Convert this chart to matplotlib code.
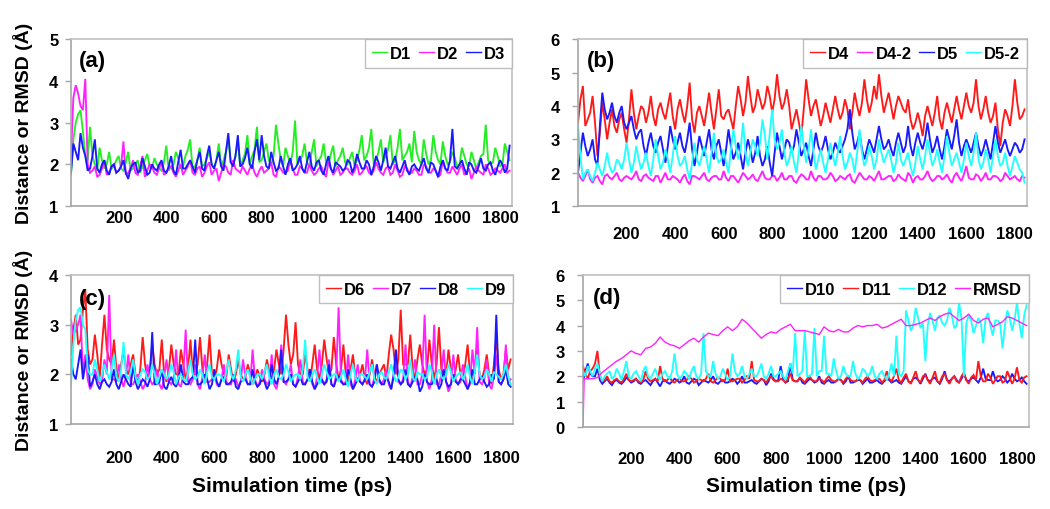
import numpy as np
import matplotlib
matplotlib.use("Agg")
import matplotlib.pyplot as plt

plt.rcParams['font.family'] = ['Liberation Sans', 'DejaVu Sans']
plt.rcParams['font.weight'] = 'bold'

STEP = 20  # ps between the main read-off samples; *_mid lists sit half a step later

# ---- panel (a) ----
d1 = [1.75, 3.0, 3.3, 2.2, 2.9, 2.0, 2.4, 1.9, 2.3, 1.95, 2.2, 1.85, 2.3, 1.9, 2.1, 1.95, 2.25, 1.9, 2.0, 1.85,
      2.45, 1.95, 2.3, 1.9, 2.2, 2.6, 1.95, 2.4, 2.0, 2.3, 1.9, 2.5, 2.1, 2.6, 2.0, 2.55, 2.1, 2.7, 2.2, 2.9,
      2.1, 2.5, 2.0, 2.95, 2.1, 2.4, 2.0, 3.05, 2.1, 2.5, 1.95, 2.6, 2.1, 2.5, 2.0, 2.45, 2.1, 2.4, 2.0, 2.3,
      2.1, 2.7, 2.2, 2.85, 2.1, 2.6, 2.2, 2.7, 2.1, 2.85, 2.2, 2.5, 2.8, 2.1, 2.6, 2.0, 2.7, 2.1, 2.55, 2.0,
      2.3, 1.95, 2.4, 2.0, 2.3, 1.9, 2.2, 2.95, 2.0, 2.4, 1.95, 2.5, 2.1]
d1_mid = [2.6, 3.2, 2.8, 2.1, 2.2, 1.85, 2.1, 2.0, 1.9, 2.1,
          1.9, 2.05, 1.85, 2.0, 1.8, 2.1, 1.95, 2.15, 1.9, 2.05,
          1.85, 2.0, 2.15, 1.95, 2.35, 1.9, 2.1, 1.95, 2.15, 2.0,
          2.1, 1.95, 2.3, 2.05, 2.2, 1.95, 2.25, 2.0, 2.35, 2.05,
          2.3, 2.1, 2.2, 2.5, 1.95, 2.2, 2.3, 2.0, 2.2, 2.05,
          2.3, 1.95, 2.2, 2.05, 2.25, 1.95, 2.2, 2.05, 2.15, 1.95,
          2.35, 2.1, 2.4, 2.0, 2.3, 2.05, 2.35, 2.0, 2.4, 2.1,
          2.3, 2.05, 2.3, 2.0, 2.25, 2.1, 2.3, 2.0, 2.2, 2.05,
          2.15, 2.0, 2.2, 1.95, 2.1, 2.05, 2.25, 2.1, 2.05, 2.2,
          2.0, 2.3]
d2 = [2.2, 3.9, 3.4, 4.05, 1.8, 1.95, 1.75, 2.1, 1.8, 2.0, 1.85, 2.55, 1.8, 2.1, 1.75, 2.2, 1.85, 1.95, 1.75, 2.05,
      1.8, 1.95, 1.7, 2.0, 1.85, 2.1, 1.75, 1.95, 1.8, 2.05, 1.85, 1.6, 2.0, 1.8, 2.1, 1.85, 1.95, 1.75, 2.0, 1.7,
      1.95, 1.85, 2.05, 1.7, 1.9, 1.8, 2.1, 1.75, 1.95, 1.8, 2.0, 1.75, 1.9, 1.8, 2.05, 1.75, 1.95, 1.8, 1.9, 1.75,
      2.0, 1.8, 1.95, 1.75, 2.05, 1.8, 1.9, 1.75, 2.0, 1.7, 1.95, 1.8, 1.9, 1.75, 2.0, 1.8, 1.9, 1.7, 2.1, 1.8,
      1.95, 1.75, 2.0, 1.8, 1.65, 1.95, 1.8, 2.0, 1.75, 1.9, 1.8, 2.0, 1.85]
d2_mid = [3.6, 3.7, 3.3, 2.0, 1.85, 1.7, 1.9, 1.75, 1.95, 1.8,
          1.95, 1.75, 1.9, 1.8, 1.95, 1.7, 2.0, 1.8, 1.9, 1.75,
          1.9, 1.8, 1.85, 1.75, 1.95, 1.8, 1.9, 1.7, 1.95, 1.75,
          1.9, 1.8, 1.95, 1.75, 1.9, 1.8, 1.85, 1.9, 1.8, 1.85,
          1.8, 1.9, 1.75, 1.95, 1.8, 1.85, 1.9, 1.75, 1.9, 1.8,
          1.85, 1.8, 1.95, 1.7, 1.9, 1.85, 1.75, 1.9, 1.8, 1.85,
          1.75, 1.9, 1.8, 1.85, 1.9, 1.75, 1.95, 1.8, 1.85, 1.75,
          1.9, 1.8, 1.85, 1.75, 1.95, 1.8, 1.85, 1.75, 1.9, 1.8,
          1.85, 1.9, 1.75, 1.9, 1.8, 1.85, 1.75, 1.9, 1.8, 1.85,
          1.9, 1.8]
d3 = [1.8, 2.3, 2.75, 2.2, 1.9, 2.6, 1.8, 2.1, 1.75, 2.0, 1.85, 2.1, 1.65, 2.0, 1.8, 2.15, 1.75, 2.0, 1.85, 2.1,
      1.8, 2.2, 1.75, 2.35, 1.9, 2.1, 1.8, 2.3, 1.85, 2.45, 1.9, 2.3, 1.85, 2.75, 1.95, 2.7, 2.0, 2.4, 1.9, 2.6,
      2.7, 1.95, 2.3, 1.85, 2.2, 1.75, 2.15, 1.9, 2.2, 1.8, 2.3, 1.85, 2.1, 1.75, 2.2, 1.8, 2.0, 1.85, 2.1, 1.8,
      2.25, 1.9, 2.1, 1.75, 2.2, 1.85, 2.4, 1.9, 2.2, 1.8, 2.1, 1.75, 2.0, 1.85, 2.15, 1.8, 2.0, 1.7, 2.1, 1.85,
      2.85, 1.9, 2.1, 1.75, 2.0, 1.8, 2.15, 1.85, 2.05, 1.75, 2.1, 1.8, 2.45]
d3_mid = [2.5, 2.1, 2.4, 1.85, 2.2, 1.9, 2.0, 1.85, 1.95, 1.8,
          1.95, 1.8, 1.9, 2.05, 1.85, 1.95, 1.8, 1.9, 2.0, 1.85,
          1.95, 1.85, 2.05, 1.9, 2.0, 1.95, 2.1, 1.9, 2.2, 2.0,
          2.1, 1.95, 2.3, 2.05, 2.2, 1.95, 2.15, 2.0, 2.3, 2.1,
          2.2, 1.9, 2.05, 1.9, 1.95, 2.0, 1.85, 2.0, 1.9, 2.05,
          1.95, 2.05, 1.85, 2.0, 1.9, 2.05, 1.95, 1.9, 2.05, 1.95,
          2.05, 1.9, 2.0, 1.95, 2.05, 2.1, 1.95, 2.05, 1.9, 1.95,
          1.85, 1.95, 1.9, 2.0, 1.9, 2.05, 1.85, 1.95, 1.9, 2.1,
          1.95, 2.0, 1.9, 2.05, 1.85, 1.95, 1.9, 2.0, 1.85, 1.95,
          2.0, 1.9]

# ---- panel (b) ----
d4 = [3.5, 4.6, 3.6, 4.3, 2.5, 4.1, 3.0, 3.9, 3.2, 3.8, 2.9, 4.5, 3.3, 4.0, 3.5, 4.3, 3.4, 4.1, 3.6, 4.4,
      3.3, 4.2, 3.5, 4.7, 3.2, 4.0, 3.4, 4.4, 3.3, 4.5, 3.6, 3.9, 3.3, 4.6, 3.7, 4.9, 3.8, 4.5, 3.9, 4.6,
      3.8, 4.95, 3.9, 4.5, 3.3, 3.9, 3.1, 4.8, 3.7, 4.2, 3.4, 4.1, 3.5, 4.3, 3.6, 4.2, 3.3, 4.4, 3.7, 4.8,
      3.8, 4.6, 4.95, 3.8, 4.4, 3.6, 4.3, 3.9, 4.2, 3.3, 3.8, 3.1, 4.0, 3.4, 4.3, 3.3, 4.1, 3.5, 4.3, 3.6,
      4.4, 3.8, 4.8, 3.6, 4.3, 3.5, 4.1, 2.8, 3.9, 3.4, 4.8, 3.6, 3.9]
d4_mid = [4.2, 3.4, 3.8, 3.5, 3.2, 3.6, 3.5, 3.4, 3.6, 3.3,
          3.6, 3.8, 3.7, 3.9, 3.8, 3.7, 3.9, 3.8, 4.0, 3.7,
          3.9, 3.8, 4.0, 3.6, 3.8, 3.7, 3.9, 3.8, 3.9, 3.7,
          3.8, 3.6, 4.0, 4.2, 4.1, 4.3, 4.0, 4.2, 4.1, 4.3,
          4.2, 4.3, 4.1, 4.0, 3.6, 3.5, 3.9, 4.2, 4.0, 3.8,
          3.7, 3.8, 3.9, 3.9, 3.8, 3.9, 3.8, 4.0, 4.1, 4.2,
          4.1, 4.2, 4.3, 4.1, 4.0, 4.0, 4.1, 3.8, 3.6, 3.5,
          3.5, 3.7, 3.7, 3.8, 3.6, 3.8, 3.8, 3.9, 3.9, 4.0,
          4.0, 4.1, 4.0, 3.9, 3.8, 3.7, 3.3, 3.5, 3.7, 4.0,
          4.1, 3.7]
d4_2 = [2.0, 1.75, 2.1, 1.7, 1.9, 1.65, 1.95, 1.8, 2.0, 1.75, 1.9, 1.8, 2.05, 1.75, 1.95, 1.8, 1.9, 1.7, 2.0, 1.8,
        1.85, 1.7, 1.95, 1.65, 1.9, 1.8, 2.0, 1.75, 1.9, 1.8, 2.05, 1.75, 1.9, 1.7, 2.0, 1.8, 1.95, 1.75, 2.05, 1.8,
        1.9, 1.75, 2.0, 1.8, 1.9, 1.7, 1.95, 1.8, 2.05, 1.75, 1.9, 1.8, 2.0, 1.75, 1.9, 1.8, 1.95, 1.7, 2.0, 1.8,
        1.9, 1.75, 2.05, 1.8, 1.9, 1.75, 1.95, 1.8, 2.0, 1.7, 1.9, 1.8, 2.05, 1.75, 1.9, 1.8, 1.95, 1.7, 2.0, 1.75,
        2.2, 1.8, 1.95, 1.75, 2.0, 1.8, 1.9, 1.75, 2.0, 1.8, 1.9, 1.75, 1.85]
d4_2_mid = [1.85, 1.9, 1.8, 1.85, 1.75, 1.9, 1.85, 1.9, 1.8, 1.85,
            1.85, 1.9, 1.8, 1.9, 1.85, 1.75, 1.9, 1.85, 1.8, 1.9,
            1.8, 1.85, 1.75, 1.9, 1.85, 1.9, 1.8, 1.85, 1.9, 1.8,
            1.85, 1.9, 1.8, 1.85, 1.9, 1.85, 1.8, 1.9, 1.85, 1.8,
            1.9, 1.85, 1.8, 1.9, 1.75, 1.85, 1.9, 1.8, 1.85, 1.9,
            1.8, 1.85, 1.9, 1.8, 1.85, 1.9, 1.75, 1.85, 1.9, 1.8,
            1.85, 1.9, 1.8, 1.85, 1.9, 1.8, 1.85, 1.75, 1.9, 1.85,
            1.8, 1.9, 1.85, 1.8, 1.9, 1.85, 1.8, 1.9, 1.85, 1.95,
            1.85, 1.8, 1.9, 1.85, 1.8, 1.9, 1.85, 1.8, 1.9, 1.85,
            1.8, 1.9]
d5 = [2.0, 3.2, 2.5, 3.0, 2.2, 4.4, 3.6, 4.1, 3.5, 4.0, 3.3, 3.7, 3.0, 3.3, 2.5, 3.2, 2.6, 3.1, 2.3, 3.4,
      2.7, 3.2, 2.6, 3.5, 2.2, 3.1, 2.5, 3.3, 2.4, 3.0, 2.2, 3.3, 2.4, 2.9, 2.1, 3.0, 2.3, 3.1, 2.2, 2.8,
      1.9, 3.2, 2.4, 3.0, 2.6, 3.3, 2.5, 2.9, 2.2, 3.2, 2.6, 3.1, 2.4, 2.9, 2.6, 3.0, 3.9, 2.7, 3.2, 2.4,
      3.0, 2.6, 3.4, 2.7, 3.0, 2.5, 3.2, 2.6, 3.4, 2.5, 3.2, 2.7, 3.5, 2.6, 3.1, 2.4, 3.3, 2.7, 3.6, 2.5,
      3.0, 2.6, 3.2, 2.5, 3.0, 2.4, 3.4, 2.6, 3.0, 2.5, 2.9, 2.6, 3.0]
d5_mid = [2.6, 2.8, 2.7, 2.4, 3.4, 3.9, 3.8, 3.7, 3.8, 3.5,
          3.5, 3.3, 3.2, 2.8, 2.9, 2.8, 2.9, 2.7, 2.8, 3.0,
          2.9, 2.8, 3.0, 2.7, 2.6, 2.8, 2.9, 2.7, 2.8, 2.6,
          2.7, 2.8, 2.6, 2.5, 2.6, 2.7, 2.6, 2.5, 2.4, 2.3,
          2.6, 2.8, 2.7, 2.9, 2.8, 2.9, 2.7, 2.5, 2.7, 2.8,
          2.8, 2.7, 2.6, 2.7, 2.8, 3.3, 3.2, 2.9, 2.7, 2.7,
          2.8, 3.0, 3.0, 2.8, 2.7, 2.9, 2.9, 2.8, 2.8, 2.9,
          2.9, 3.0, 3.0, 2.8, 2.7, 2.8, 3.0, 3.1, 2.9, 2.8,
          2.8, 2.9, 2.8, 2.7, 2.7, 2.9, 2.9, 2.8, 2.7, 2.7,
          2.8, 2.7]
d5_2 = [3.4, 1.8, 2.1, 1.75, 2.3, 1.9, 2.6, 2.0, 2.4, 2.1, 2.9, 2.0, 2.8, 2.1, 2.6, 1.9, 3.0, 2.1, 2.7, 2.0,
        3.1, 2.2, 2.5, 1.8, 2.9, 2.2, 2.8, 2.0, 3.2, 2.3, 2.7, 2.0, 3.3, 2.4, 3.5, 2.2, 3.0, 2.5, 3.6, 2.4,
        3.9, 2.7, 3.3, 2.2, 2.8, 2.0, 3.4, 2.3, 3.3, 2.1, 2.7, 2.0, 2.9, 2.2, 3.1, 2.1, 2.6, 2.0, 3.3, 2.2,
        2.8, 2.1, 3.0, 2.3, 2.7, 2.0, 2.9, 2.2, 2.6, 1.9, 2.8, 2.1, 3.0, 2.2, 2.7, 2.0, 3.1, 2.2, 2.6, 2.0,
        2.9, 2.2, 3.2, 2.1, 2.7, 2.0, 3.0, 2.2, 2.6, 1.9, 2.5, 2.1, 1.7]
d5_2_mid = [2.5, 2.0, 1.9, 2.0, 2.1, 2.2, 2.2, 2.1, 2.3, 2.4,
            2.4, 2.3, 2.4, 2.3, 2.2, 2.4, 2.5, 2.3, 2.4, 2.5,
            2.5, 2.3, 2.1, 2.3, 2.4, 2.5, 2.4, 2.6, 2.5, 2.4,
            2.3, 2.7, 2.8, 2.7, 2.6, 2.6, 2.8, 2.9, 3.1, 3.2,
            3.0, 2.9, 2.6, 2.4, 2.3, 2.6, 2.8, 2.7, 2.6, 2.4,
            2.3, 2.4, 2.5, 2.6, 2.5, 2.3, 2.4, 2.6, 2.6, 2.4,
            2.5, 2.4, 2.6, 2.5, 2.4, 2.3, 2.4, 2.4, 2.2, 2.3,
            2.4, 2.5, 2.6, 2.4, 2.3, 2.5, 2.6, 2.4, 2.3, 2.4,
            2.5, 2.6, 2.4, 2.3, 2.4, 2.5, 2.5, 2.3, 2.2, 2.2,
            2.3, 2.0]

# ---- panel (c) ----
d6 = [2.4, 3.2, 2.7, 3.7, 2.2, 2.8, 1.9, 3.2, 2.3, 2.7, 1.9, 2.5, 2.0, 2.4, 1.8, 2.75, 1.9, 2.6, 2.0, 2.7,
      1.85, 2.6, 2.0, 2.5, 1.9, 2.7, 2.0, 2.75, 1.85, 2.8, 1.9, 2.5, 2.0, 2.4, 1.85, 2.3, 1.9, 2.2, 1.8, 2.1,
      1.85, 2.3, 1.9, 2.5, 2.0, 3.2, 2.2, 3.05, 2.0, 2.4, 1.85, 2.6, 1.9, 2.7, 2.0, 2.75, 1.9, 2.6, 1.85, 2.4,
      1.9, 2.2, 1.8, 2.3, 1.85, 2.1, 1.9, 2.8, 2.0, 3.3, 2.2, 2.8, 1.9, 2.6, 2.0, 2.7, 1.9, 2.95, 2.0, 2.5,
      1.85, 2.4, 1.9, 2.6, 1.85, 2.5, 1.9, 2.4, 1.8, 2.75, 1.9, 2.5, 2.3]
d6_mid = [2.9, 2.6, 3.3, 2.5, 2.3, 2.4, 2.6, 2.5, 2.2, 2.1,
          2.2, 2.1, 2.2, 2.0, 2.1, 2.2, 2.1, 2.2, 2.1, 2.0,
          2.1, 2.2, 2.0, 2.2, 2.1, 2.0, 2.2, 2.1, 2.2, 2.0,
          2.1, 2.2, 1.95, 2.1, 2.0, 2.0, 1.95, 2.0, 1.9, 1.95,
          2.0, 2.05, 2.1, 2.2, 2.5, 2.6, 2.4, 2.2, 2.0, 2.1,
          2.2, 2.1, 2.2, 2.3, 2.1, 2.2, 2.1, 2.0, 2.1, 1.95,
          2.0, 1.9, 2.0, 1.95, 2.0, 2.2, 2.4, 2.5, 2.3, 2.2,
          2.2, 2.1, 2.3, 2.2, 2.1, 2.2, 2.2, 2.1, 2.0, 2.1,
          2.1, 2.0, 2.2, 2.0, 2.1, 2.0, 2.1, 2.0, 2.2, 2.1,
          2.0, 2.1]
d7 = [3.1, 2.9, 3.2, 2.4, 1.7, 2.1, 1.8, 2.3, 3.6, 1.9, 2.2, 1.75, 2.4, 1.8, 2.0, 1.7, 2.2, 1.8, 2.1, 1.7,
      2.3, 1.8, 2.5, 1.75, 2.9, 1.8, 2.2, 1.7, 2.4, 1.85, 2.1, 1.75, 2.2, 1.8, 2.0, 1.75, 2.3, 1.8, 2.5, 1.75,
      2.1, 1.8, 2.4, 1.7, 2.6, 1.8, 2.2, 1.75, 2.3, 1.8, 2.1, 1.7, 2.5, 1.8, 2.3, 1.75, 3.35, 1.8, 2.4, 1.7,
      2.2, 1.8, 2.5, 1.75, 2.2, 1.8, 2.1, 1.7, 2.4, 1.8, 2.6, 1.75, 2.3, 1.8, 3.2, 1.7, 3.0, 1.8, 2.5, 1.65,
      2.4, 1.8, 2.2, 1.7, 2.5, 2.95, 1.8, 2.3, 1.7, 2.4, 1.8, 2.6, 1.9]
d7_mid = [2.8, 3.0, 2.0, 1.9, 1.8, 1.95, 1.85, 2.0, 1.9, 1.85,
          1.9, 1.95, 1.8, 1.9, 1.85, 1.8, 1.9, 1.85, 1.8, 1.95,
          1.85, 1.9, 1.8, 2.0, 1.85, 1.9, 1.8, 1.95, 1.85, 1.9,
          1.8, 1.9, 1.85, 1.8, 1.9, 1.85, 1.95, 1.8, 1.9, 1.85,
          1.9, 1.85, 1.8, 1.95, 1.85, 1.9, 1.8, 1.95, 1.85, 1.9,
          1.8, 1.95, 1.85, 1.9, 1.8, 2.0, 1.9, 1.85, 1.8, 1.9,
          1.85, 1.9, 1.8, 1.95, 1.85, 1.9, 1.8, 2.0, 1.85, 1.9,
          1.85, 1.95, 1.8, 2.0, 1.85, 1.9, 1.8, 2.0, 1.85, 1.8,
          1.9, 1.85, 1.95, 1.8, 2.0, 1.85, 1.9, 1.8, 1.95, 1.85,
          1.9, 1.85]
d8 = [2.3, 1.9, 2.5, 2.2, 1.75, 2.0, 1.7, 1.9, 1.75, 2.1, 1.7, 2.0, 1.8, 2.2, 1.7, 1.9, 1.75, 2.85, 1.8, 2.1,
      1.7, 1.95, 1.75, 2.2, 1.8, 1.9, 2.7, 1.8, 2.0, 1.7, 2.1, 1.75, 1.95, 1.8, 2.0, 1.7, 1.9, 1.8, 2.1, 1.75,
      1.95, 1.7, 2.2, 1.8, 2.5, 1.85, 2.0, 1.75, 1.95, 1.8, 2.1, 1.7, 1.9, 1.8, 2.2, 1.75, 1.95, 1.8, 2.1, 1.7,
      1.9, 1.8, 2.0, 1.75, 2.2, 1.8, 1.95, 1.7, 2.5, 1.8, 2.1, 1.75, 1.95, 1.65, 2.0, 1.8, 1.9, 1.7, 2.1, 1.75,
      2.0, 1.8, 1.9, 1.7, 2.1, 1.8, 1.95, 1.75, 2.0, 3.2, 1.8, 2.1, 1.75]
d8_mid = [2.0, 2.2, 1.9, 2.4, 1.85, 1.8, 1.85, 1.8, 1.85, 1.8,
          1.85, 1.9, 1.75, 1.85, 1.8, 1.85, 1.9, 1.8, 1.85, 1.75,
          1.85, 1.8, 1.9, 1.85, 1.8, 1.95, 1.8, 1.85, 1.9, 1.8,
          1.85, 1.9, 1.8, 1.85, 1.75, 1.85, 1.9, 1.8, 1.85, 1.8,
          1.85, 1.8, 1.9, 1.95, 1.85, 1.9, 1.8, 1.85, 1.8, 1.9,
          1.85, 1.8, 1.9, 1.85, 1.8, 1.9, 1.85, 1.8, 1.9, 1.8,
          1.85, 1.9, 1.8, 1.85, 1.9, 1.8, 1.85, 1.95, 1.9, 1.85,
          1.8, 1.85, 1.9, 1.75, 1.85, 1.8, 1.9, 1.8, 1.85, 1.8,
          1.85, 1.9, 1.8, 1.85, 1.8, 1.9, 1.85, 1.8, 1.9, 1.85,
          1.9, 1.8]
d9 = [1.8, 3.1, 3.35, 2.9, 2.0, 2.3, 1.85, 2.2, 1.9, 2.4, 1.85, 2.65, 1.9, 2.3, 1.8, 2.1, 1.9, 2.2, 1.8, 2.1,
      1.9, 2.2, 1.8, 2.0, 1.85, 2.3, 1.9, 2.1, 1.8, 2.2, 1.9, 2.0, 1.85, 2.3, 1.9, 2.5, 1.85, 2.1, 1.8, 2.0,
      1.9, 2.2, 1.8, 2.1, 1.9, 2.2, 1.85, 2.0, 1.9, 2.7, 1.85, 2.1, 1.8, 2.2, 1.9, 2.0, 1.85, 2.1, 1.75, 2.2,
      1.85, 2.0, 1.9, 2.2, 1.8, 2.05, 1.9, 2.2, 1.85, 2.1, 1.9, 2.3, 1.85, 2.0, 1.9, 2.2, 1.8, 2.1, 1.9, 2.2,
      1.85, 2.0, 1.9, 2.2, 1.8, 2.4, 1.9, 2.1, 1.85, 2.0, 1.9, 2.2, 1.8]
d9_mid = [2.6, 3.3, 3.0, 2.1, 2.0, 2.1, 2.0, 2.05, 2.1, 1.95,
          2.1, 2.0, 2.05, 1.95, 2.0, 2.05, 1.95, 2.0, 1.95, 2.0,
          2.0, 2.05, 1.95, 1.9, 2.05, 2.0, 1.95, 2.0, 2.05, 1.95,
          2.0, 1.95, 2.05, 2.0, 2.1, 1.95, 2.0, 1.95, 1.9, 2.0,
          2.05, 1.95, 2.0, 1.95, 2.0, 2.05, 1.95, 2.0, 2.1, 1.95,
          2.0, 1.95, 2.0, 2.05, 1.95, 2.0, 1.95, 1.9, 2.0, 1.95,
          2.0, 1.95, 2.05, 1.9, 2.0, 1.95, 2.05, 2.0, 1.95, 2.05,
          2.0, 1.95, 2.05, 2.0, 1.95, 2.05, 2.0, 1.95, 2.0, 2.05,
          1.95, 2.05, 2.0, 1.95, 2.05, 2.0, 1.95, 2.0, 2.05, 1.95,
          2.0, 1.95]

# ---- panel (d) ----
d10 = [1.8, 2.5, 2.0, 2.3, 1.7, 1.9, 1.65, 1.85, 1.7, 1.95, 1.75, 1.9, 1.7, 1.85, 1.65, 1.9, 1.6, 1.85, 1.7, 1.9,
       1.75, 2.0, 1.7, 1.9, 1.65, 1.85, 1.75, 2.0, 1.7, 1.85, 1.75, 1.9, 1.7, 2.0, 1.75, 1.85, 1.7, 1.9, 1.65, 2.1,
       1.8, 2.4, 1.75, 2.5, 1.8, 1.95, 1.7, 1.9, 1.75, 2.0, 1.7, 1.85, 1.75, 1.9, 1.7, 2.0, 1.75, 1.85, 1.7, 1.9,
       1.75, 1.85, 1.7, 1.9, 1.75, 1.85, 1.7, 2.0, 1.75, 1.95, 1.7, 2.1, 1.8, 1.95, 1.7, 2.2, 1.8, 2.0, 1.75, 2.1,
       1.8, 1.95, 1.75, 2.3, 1.85, 2.2, 1.8, 2.0, 1.75, 2.1, 1.8, 1.95, 1.7]
d10_mid = [2.2, 2.1, 2.0, 1.85, 1.8, 1.75, 1.8, 1.75, 1.8, 1.85,
           1.8, 1.75, 1.8, 1.75, 1.8, 1.75, 1.8, 1.75, 1.8, 1.85,
           1.8, 1.75, 1.8, 1.85, 1.75, 1.8, 1.85, 1.75, 1.8, 1.75,
           1.8, 1.85, 1.8, 1.75, 1.8, 1.75, 1.8, 1.85, 1.8, 1.9,
           1.85, 1.9, 1.8, 1.85, 1.8, 1.75, 1.8, 1.85, 1.8, 1.75,
           1.8, 1.75, 1.8, 1.85, 1.8, 1.75, 1.8, 1.85, 1.8, 1.75,
           1.8, 1.75, 1.8, 1.85, 1.8, 1.75, 1.85, 1.8, 1.9, 1.85,
           1.9, 1.85, 1.9, 1.8, 1.9, 1.85, 1.9, 1.85, 1.9, 1.85,
           1.9, 1.85, 1.95, 1.9, 1.85, 1.9, 1.85, 1.9, 1.85, 1.9,
           1.85, 1.8]
d11 = [2.4, 1.9, 2.3, 3.0, 1.8, 2.0, 1.75, 1.9, 1.75, 2.1, 1.8, 1.9, 1.75, 2.2, 1.8, 1.9, 2.4, 1.8, 1.95, 1.75,
       1.9, 1.8, 2.0, 1.75, 1.9, 1.8, 2.1, 1.75, 1.95, 1.8, 2.3, 1.8, 1.9, 1.75, 2.0, 2.6, 1.8, 1.9, 1.75, 2.0,
       1.8, 1.9, 1.75, 2.1, 1.8, 1.95, 1.75, 2.0, 1.8, 1.9, 1.75, 2.0, 1.8, 1.9, 1.75, 2.0, 1.8, 1.9, 1.75, 2.0,
       1.8, 1.9, 1.75, 2.2, 1.8, 2.3, 1.75, 2.1, 1.7, 2.2, 1.75, 2.05, 1.7, 2.2, 1.75, 2.1, 1.7, 2.0, 1.75, 2.15,
       1.7, 2.05, 2.6, 1.8, 2.1, 1.7, 2.0, 1.75, 2.2, 1.7, 2.35, 1.75, 2.0]
d11_mid = [2.1, 2.2, 2.5, 2.0, 1.85, 1.8, 1.85, 1.8, 1.9, 1.85,
           1.85, 1.8, 1.85, 1.9, 1.85, 1.8, 1.9, 1.85, 1.8, 1.85,
           1.8, 1.85, 1.9, 1.8, 1.85, 1.9, 1.8, 1.85, 1.9, 1.85,
           1.8, 1.85, 1.9, 1.85, 1.9, 1.85, 1.8, 1.85, 1.9, 1.85,
           1.8, 1.85, 1.9, 1.85, 1.8, 1.85, 1.9, 1.85, 1.8, 1.85,
           1.9, 1.85, 1.8, 1.85, 1.9, 1.85, 1.8, 1.85, 1.9, 1.85,
           1.85, 1.9, 1.85, 1.9, 2.0, 1.85, 1.95, 1.8, 1.95, 1.85,
           2.0, 1.85, 1.95, 1.8, 2.0, 1.85, 1.9, 1.8, 2.0, 1.85,
           1.95, 1.85, 2.0, 1.8, 1.95, 1.85, 2.0, 1.8, 1.95, 1.9,
           1.85, 1.95]
d12 = [2.2, 2.4, 2.0, 2.5, 1.8, 2.1, 1.9, 2.3, 1.85, 2.6, 1.9, 2.2, 1.8, 2.4, 1.9, 2.3, 1.85, 2.2, 1.9, 2.9,
       1.9, 2.2, 1.85, 2.4, 1.9, 3.7, 2.0, 2.6, 1.9, 2.3, 1.85, 2.9, 2.0, 2.4, 1.9, 2.3, 2.0, 2.5, 1.9, 2.4,
       2.0, 2.2, 1.85, 2.5, 3.7, 2.1, 3.8, 2.0, 3.9, 2.2, 3.6, 2.1, 2.7, 1.9, 2.4, 2.0, 2.6, 1.9, 2.3, 2.0,
       2.4, 1.9, 2.2, 1.85, 2.5, 3.6, 2.0, 4.6, 3.8, 4.7, 3.9, 2.6, 4.5, 3.8, 4.4, 4.0, 4.7, 3.9, 4.9, 2.0,
       4.4, 3.7, 4.3, 3.3, 4.5, 3.6, 4.2, 3.1, 4.6, 3.8, 4.9, 3.5, 4.8]
d12_mid = [2.0, 2.2, 2.3, 2.1, 2.0, 2.2, 2.0, 2.1, 2.2, 2.0,
           2.1, 2.0, 2.2, 2.0, 2.1, 2.0, 2.1, 2.0, 2.2, 2.1,
           2.0, 2.1, 2.2, 2.0, 2.1, 2.2, 2.0, 2.1, 2.0, 2.1,
           2.0, 2.2, 2.1, 2.0, 2.1, 2.0, 2.2, 2.0, 2.1, 2.0,
           2.1, 2.0, 2.2, 2.1, 2.0, 2.2, 2.0, 2.1, 2.0, 2.2,
           2.1, 2.0, 2.2, 2.0, 2.1, 2.0, 2.1, 2.0, 2.2, 2.1,
           2.0, 2.1, 2.0, 2.1, 2.0, 2.1, 2.2, 4.2, 4.0, 4.3,
           4.1, 4.0, 4.2, 4.3, 4.1, 4.2, 4.4, 4.0, 4.3, 4.1,
           4.2, 4.0, 4.1, 4.3, 4.0, 4.2, 4.1, 4.0, 4.3, 4.2,
           4.1, 4.4]
# RMSD: first two samples at 0 and 5 ps, then every 20 ps
rmsd = [0.0, 1.9, 1.9, 1.9, 1.95, 2.15, 2.3, 2.45, 2.6, 2.7, 2.85, 3.0, 2.9, 2.85, 3.1, 3.15, 3.3, 3.55, 3.35, 3.25,
        3.2, 3.1, 3.25, 3.4, 3.5, 3.35, 3.55, 3.7, 3.65, 3.6, 3.8, 3.95, 3.8, 3.95, 4.25, 4.1, 3.9, 3.7, 3.5, 3.65,
        3.75, 3.7, 3.85, 3.95, 4.05, 3.8, 3.8, 3.8, 3.75, 3.7, 3.65, 3.95, 3.8, 3.75, 3.85, 3.75, 3.75, 3.9, 4.0, 3.95,
        4.0, 4.0, 4.05, 3.9, 3.95, 4.05, 4.15, 4.25, 4.0, 4.0, 4.05, 4.1, 4.2, 4.3, 4.2, 4.35, 4.45, 4.5, 4.35, 4.2,
        4.3, 4.45, 4.2, 4.1, 4.25, 4.3, 3.95, 4.05, 4.15, 4.35, 4.3, 4.2, 4.1, 4.0]

GREEN, MAGENTA, BLUE, RED, CYAN = '#22ee22', '#ff22ff', '#1a1aff', '#ff1a1a', '#22ffff'
AXIS_GRAY = '#a6a6a6'


def merge(base, mid):
    # interleave the on-step and half-step readings into one time series
    n = min(len(base), len(mid) + 1)
    t = np.concatenate([np.arange(n) * STEP, np.arange(n - 1) * STEP + STEP / 2])
    y = np.concatenate([np.asarray(base[:n]), np.asarray(mid[:n - 1])])
    order = np.argsort(t)
    return t[order], y[order]


def style_axes(ax, ymin, ymax, xpad, ypad):
    ax.set_xlim(0, 1850)
    ax.set_ylim(ymin, ymax)
    ax.set_xticks(range(200, 1801, 200))
    ax.set_yticks(range(ymin, ymax + 1))
    for s in ax.spines.values():
        s.set_color('#c0c0c0')
        s.set_linewidth(1.2)
    ax.spines['left'].set_color(AXIS_GRAY)
    ax.spines['bottom'].set_color(AXIS_GRAY)
    ax.tick_params(axis='x', length=0, pad=xpad, labelsize=12)
    ax.tick_params(axis='y', length=4, width=1, color=AXIS_GRAY, pad=ypad, labelsize=12)
    for lab in ax.get_xticklabels() + ax.get_yticklabels():
        lab.set_fontweight('bold')


def add_legend(ax):
    leg = ax.legend(loc='upper right', ncol=4, fontsize=12, frameon=True, fancybox=False,
                    borderaxespad=0, handlelength=0.9, handletextpad=0.2, columnspacing=0.45,
                    borderpad=0.4)
    leg.get_frame().set_edgecolor('#b0b0b0')
    leg.get_frame().set_linewidth(1.0)
    for t in leg.get_texts():
        t.set_fontweight('bold')
    for h in leg.get_lines():
        h.set_linewidth(1.0)


fig = plt.figure(figsize=(10.5, 5.1), dpi=100)
ax_a = fig.add_axes([0.0676, 0.594, 0.420, 0.327])
ax_b = fig.add_axes([0.5505, 0.594, 0.4276, 0.327])
ax_c = fig.add_axes([0.0676, 0.1667, 0.421, 0.292])
ax_d = fig.add_axes([0.5552, 0.161, 0.4248, 0.298])

lw = 1.35
for ax, series in [
    (ax_a, [(d1, d1_mid, GREEN, 'D1'), (d2, d2_mid, MAGENTA, 'D2'), (d3, d3_mid, BLUE, 'D3')]),
    (ax_b, [(d4, d4_mid, RED, 'D4'), (d4_2, d4_2_mid, MAGENTA, 'D4-2'),
            (d5, d5_mid, BLUE, 'D5'), (d5_2, d5_2_mid, CYAN, 'D5-2')]),
    (ax_c, [(d6, d6_mid, RED, 'D6'), (d7, d7_mid, MAGENTA, 'D7'),
            (d8, d8_mid, BLUE, 'D8'), (d9, d9_mid, CYAN, 'D9')]),
    (ax_d, [(d10, d10_mid, BLUE, 'D10'), (d11, d11_mid, RED, 'D11'), (d12, d12_mid, CYAN, 'D12')]),
]:
    for base, mid, col, name in series:
        t, y = merge(base, mid)
        ax.plot(t, y, color=col, lw=lw, label=name, solid_joinstyle='miter')

rmsd_t = [0, 5] + [STEP * (i + 1) for i in range(len(rmsd) - 2)]
ax_d.plot(rmsd_t, rmsd, color=MAGENTA, lw=1.0, label='RMSD')

style_axes(ax_a, 1, 5, 3, 5)
style_axes(ax_b, 1, 6, 14, 9)
style_axes(ax_c, 1, 4, 19, 5)
style_axes(ax_d, 0, 6, 17, 9)

for ax, letter, (lx, ly) in [(ax_a, '(a)', (0.018, 0.87)), (ax_b, '(b)', (0.02, 0.87)),
                             (ax_c, '(c)', (0.018, 0.84)), (ax_d, '(d)', (0.023, 0.85))]:
    ax.text(lx, ly, letter, transform=ax.transAxes, fontsize=16, fontweight='bold',
            ha='left', va='center')
    add_legend(ax)

for ax in (ax_a, ax_c):
    ax.set_ylabel('Distance or RMSD (Å)', fontsize=14, fontweight='bold')
    ax.yaxis.set_label_coords(-0.086, 0.5)

ax_c.set_xlabel('Simulation time (ps)', fontsize=15, fontweight='bold')
ax_c.xaxis.set_label_coords(0.5, -0.35)
ax_d.set_xlabel('Simulation time (ps)', fontsize=15, fontweight='bold')
ax_d.xaxis.set_label_coords(0.5, -0.32)

fig.savefig('out.png', dpi=100)
